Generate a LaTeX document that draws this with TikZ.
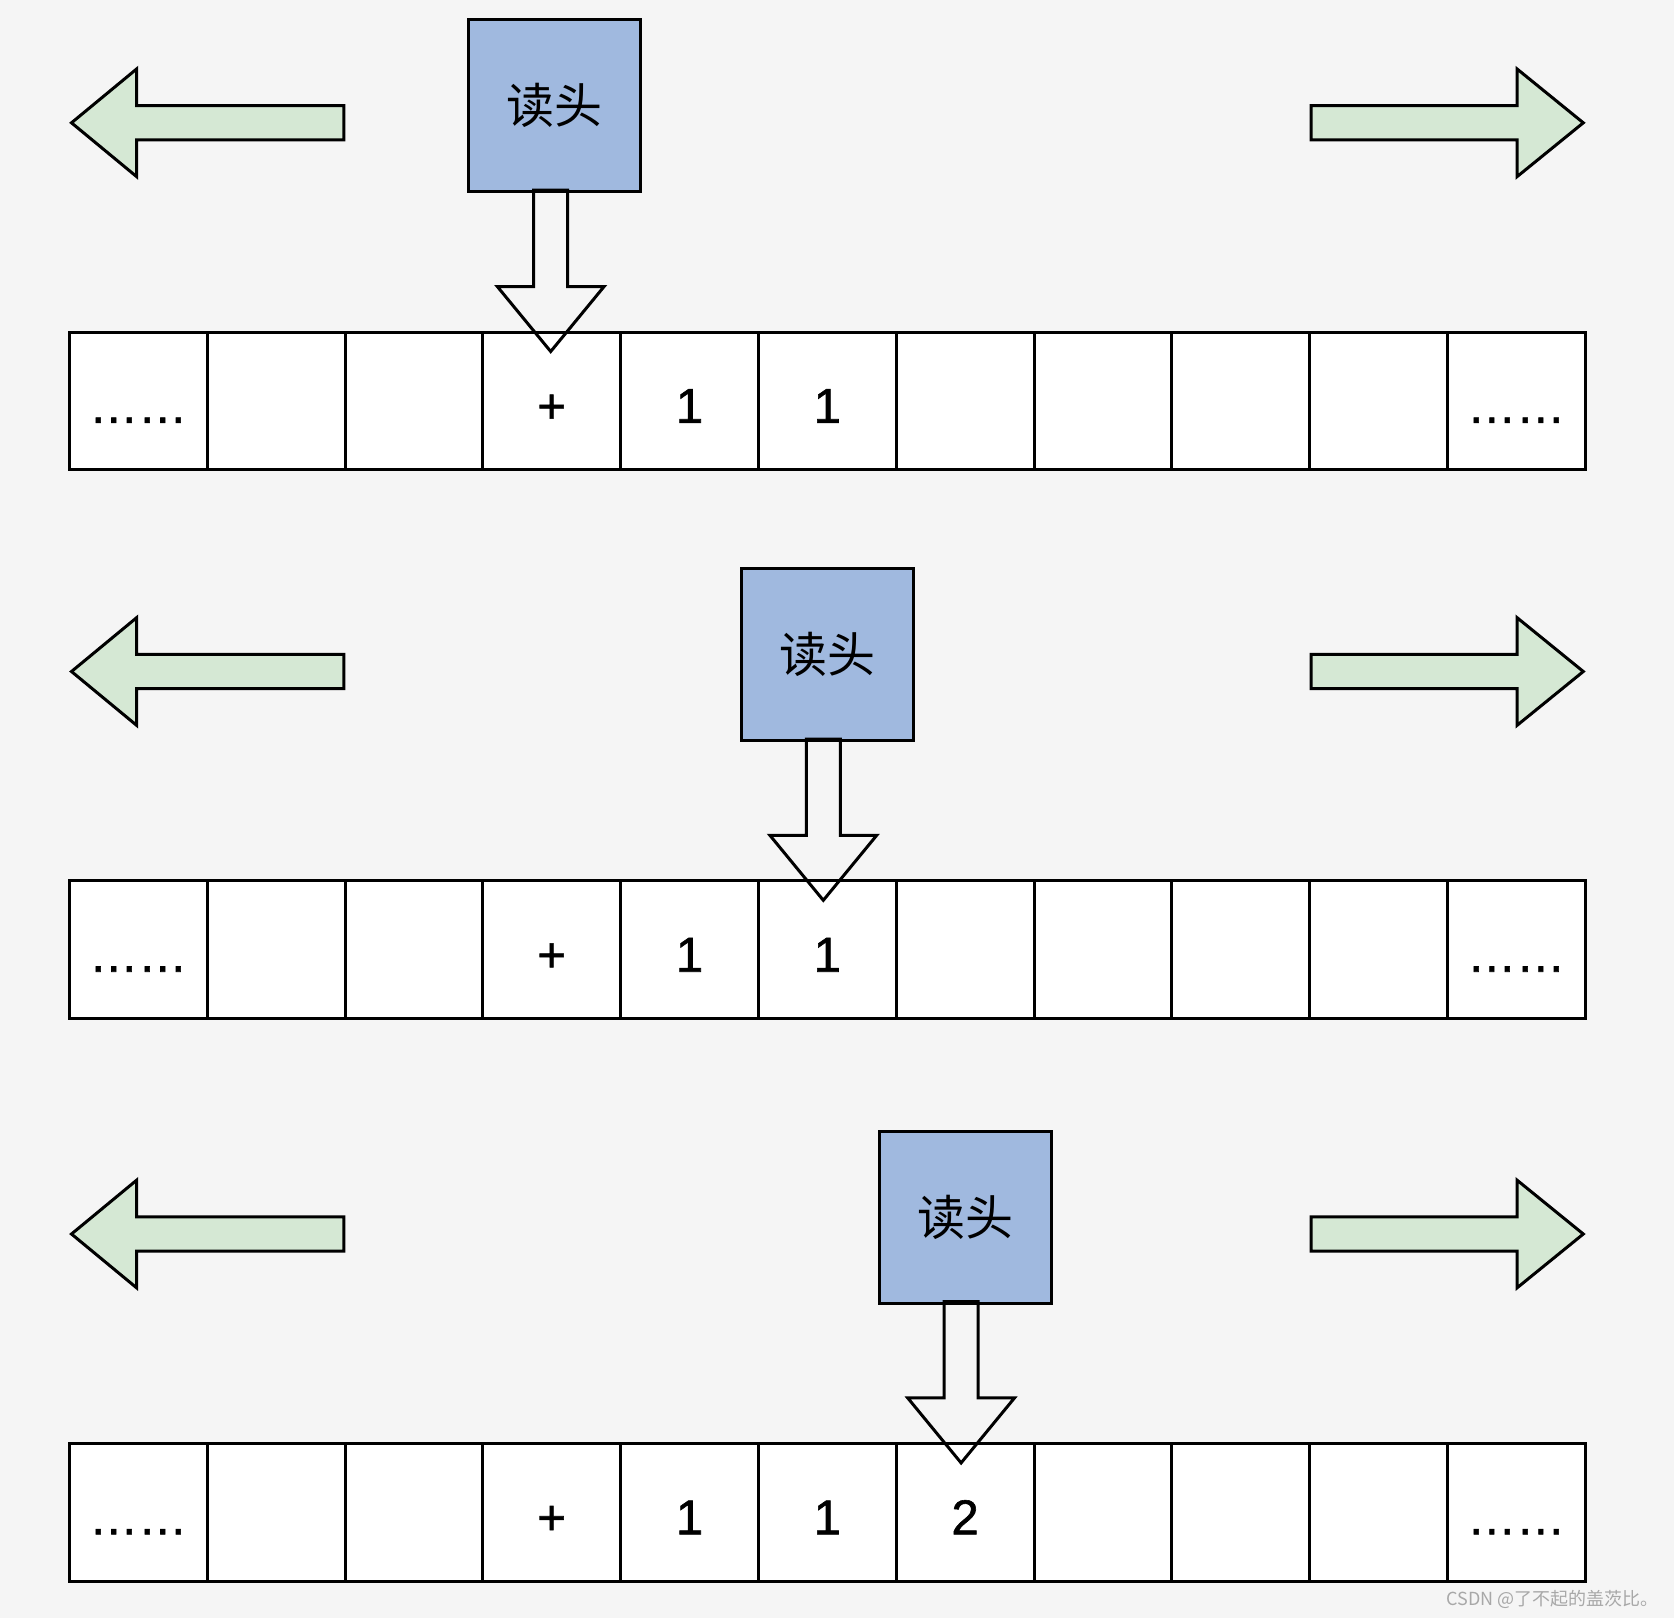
\documentclass[tikz,border=0pt]{standalone}
\usepackage{fontspec}
\setmainfont{Liberation Sans}
\newfontfamily\cellfont[FakeBold=1.2]{Liberation Sans}
\newfontfamily\cjkfont{Noto Sans CJK SC}
\usetikzlibrary{calc}
\definecolor{headblue}{HTML}{A0B9DF}
\definecolor{movegreen}{HTML}{D5E8D4}
\definecolor{bggray}{HTML}{F5F5F5}
\definecolor{markgray}{HTML}{A8A8A8}

\begin{document}
\begin{tikzpicture}[x=1pt, y=-1pt,
    cell/.style={draw, line width=3pt, fill=white, minimum size=137.8pt, inner sep=0pt, text height=44pt, text depth=0pt, font=\cellfont\fontsize{49}{49}\selectfont},
    readhead/.style={draw, line width=3pt, fill=headblue, minimum size=172pt, inner sep=0pt, font=\cjkfont\fontsize{48}{48}\selectfont},
    movearrow/.style={draw, line width=3pt, fill=movegreen, line join=miter},
    downarrow/.style={draw, line width=3pt, line join=miter},
]
\fill[bggray] (0,0) rectangle (1674,1618);
\useasboundingbox (0,0) rectangle (1674,1618);

% row / tape top / head y / arrow y / head cell / head shift / new symbol
\foreach \r/\ty/\hy/\ay/\hc/\hx/\six in {1/332/105.6/122.8/3/3/{}, 2/880.8/654.5/671.5/5/0/{}, 3/1443.4/1217.1/1234/6/0/2} {
  % tape
  \foreach \i/\t in {0/……, 1/{}, 2/{}, 3/+, 4/1, 5/1, 6/\six, 7/{}, 8/{}, 9/{}, 10/……}
    \node[cell] (c\r-\i) at ({69.4+(\i+0.5)*137.8}, {\ty+68.9}) {\t};

  % read head over its cell
  \coordinate (hrow\r) at (\hx,\hy);
  \node[readhead] (h\r) at ($(c\r-\hc |- hrow\r)+(\hx,0)$) {读头};
  \coordinate (tip\r) at ($(h\r.center |- c\r-\hc.north)+(-4,21)$);
  \draw[downarrow] ($(h\r.south)+(-21,-3)$) -- ($(tip\r)+(-17,-65)$) -- ++(-36.4,0)
    -- (tip\r) -- ($(tip\r)+(53.4,-65)$) -- ++(-36.4,0)
    -- ($(h\r.south)+(13,-3)$) -- cycle;

  % move left / move right
  \draw[movearrow] (71.5,\ay) -- (136.7,{\ay-53.9}) -- (136.7,{\ay-17.1}) -- (343.8,{\ay-17.1})
    -- (343.8,{\ay+17.1}) -- (136.7,{\ay+17.1}) -- (136.7,{\ay+53.9}) -- cycle;
  \draw[movearrow] (1583.3,\ay) -- (1517,{\ay-53.9}) -- (1517,{\ay-17.1}) -- (1311,{\ay-17.1})
    -- (1311,{\ay+17.1}) -- (1517,{\ay+17.1}) -- (1517,{\ay+53.9}) -- cycle;
}

\node[font=\cjkfont\fontsize{18}{18}\selectfont, text=markgray, anchor=east] (mark) at (1662,1599) {CSDN @了不起的盖茨比。};
\end{tikzpicture}
\end{document}
